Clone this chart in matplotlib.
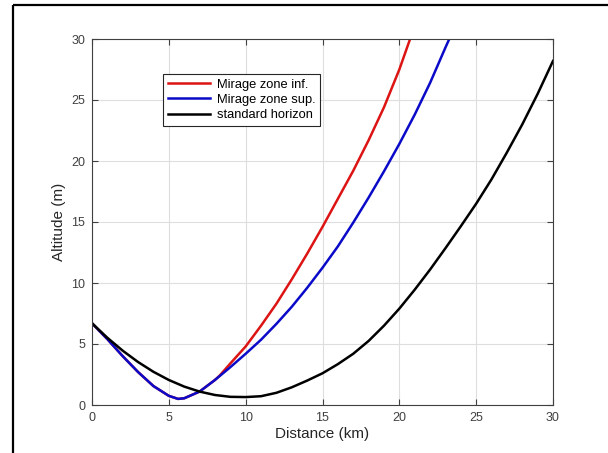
"""
Mirage zones vs standard horizon: altitude along distance.
"""

import matplotlib.pyplot as plt
from matplotlib.lines import Line2D

# Values
dist_black = [0, 1, 2, 3, 4, 5, 6, 7, 8, 9, 10, 11, 12, 13, 14, 15, 16, 17, 18, 19, 20,
              21, 22, 23, 24, 25, 26, 27, 28, 29, 30]
alt_black = [6.70, 5.51, 4.45, 3.52, 2.72, 2.05, 1.51, 1.10, 0.82, 0.67, 0.65, 0.72, 1.00,
             1.45, 2.00, 2.60, 3.35, 4.20, 5.25, 6.50, 7.90, 9.45, 11.10, 12.85, 14.65,
             16.50, 18.50, 20.70, 23.00, 25.50, 28.20]

dist_sup = [0, 1, 2, 3, 4, 5, 5.6, 6, 7, 8, 9, 10, 11, 12, 13, 14, 15, 16, 17, 18, 19, 20,
            21, 22, 23, 23.25]
alt_sup = [6.70, 5.40, 4.00, 2.70, 1.55, 0.75, 0.50, 0.55, 1.10, 2.05, 3.10, 4.20, 5.35,
           6.65, 8.05, 9.60, 11.25, 13.00, 14.95, 17.00, 19.15, 21.40, 23.80, 26.40,
           29.30, 30.00]

dist_inf = [0, 1, 2, 3, 4, 5, 5.6, 6, 7, 8, 8.3, 9, 10, 11, 12, 13, 14, 15, 16, 17, 18,
            19, 20, 20.7]
alt_inf = [6.70, 5.40, 4.00, 2.70, 1.55, 0.75, 0.50, 0.55, 1.10, 2.05, 2.40, 3.40, 4.80,
           6.50, 8.30, 10.30, 12.40, 14.60, 16.90, 19.20, 21.70, 24.40, 27.50, 30.00]

labels = ['Mirage zone inf.', 'Mirage zone sup.', 'standard horizon']
ticks = [0, 5, 10, 15, 20, 25, 30]

plt.rcParams['font.family'] = ['Liberation Sans', 'DejaVu Sans']

fig = plt.figure(figsize=(6.08, 4.53), dpi=100)
ax = fig.add_axes([92 / 608, 1 - 405 / 453, 461 / 608, 366 / 453])

ax.plot(dist_inf, alt_inf, color='#dc1414', linewidth=1.8, label=labels[0])
ax.plot(dist_sup, alt_sup, color='#0a0ac8', linewidth=1.8, label=labels[1])
ax.plot(dist_black, alt_black, color='black', linewidth=1.8, label=labels[2])

ax.set_xlim(0, 30)
ax.set_ylim(0, 30)
ax.set_xticks(ticks)
ax.set_yticks(ticks)
ax.grid(True, color='#dedede', linewidth=0.8)
ax.set_axisbelow(True)
ax.tick_params(direction='in', top=True, right=True, length=4, width=0.8,
               labelsize=9, colors='#404040', labelcolor='#404040', pad=5)
for spine in ax.spines.values():
    spine.set_color('#404040')
    spine.set_linewidth(0.8)

ax.set_xlabel('Distance (km)', fontsize=11, color='#262626', labelpad=2)
ax.set_ylabel('Altitude (m)', fontsize=11, color='#262626', labelpad=4)

leg = ax.legend(loc='upper left', bbox_to_anchor=(0.154, 0.904), borderaxespad=0,
                fontsize=9.3, handlelength=3.3, handletextpad=0.5, labelspacing=0.25,
                borderpad=0.35, fancybox=False, framealpha=1, edgecolor='#262626')
leg.get_frame().set_linewidth(0.8)

# outer frame of the original figure: only the left and top edges are visible
fx, fy = 13 / 608, 1 - 5 / 453
fig.add_artist(Line2D([fx, 1.05], [fy, fy], transform=fig.transFigure,
                      color='black', linewidth=1.6, solid_capstyle='butt'))
fig.add_artist(Line2D([fx, fx], [-0.05, fy], transform=fig.transFigure,
                      color='black', linewidth=1.6, solid_capstyle='butt'))

plt.savefig('out.png', dpi=100)
